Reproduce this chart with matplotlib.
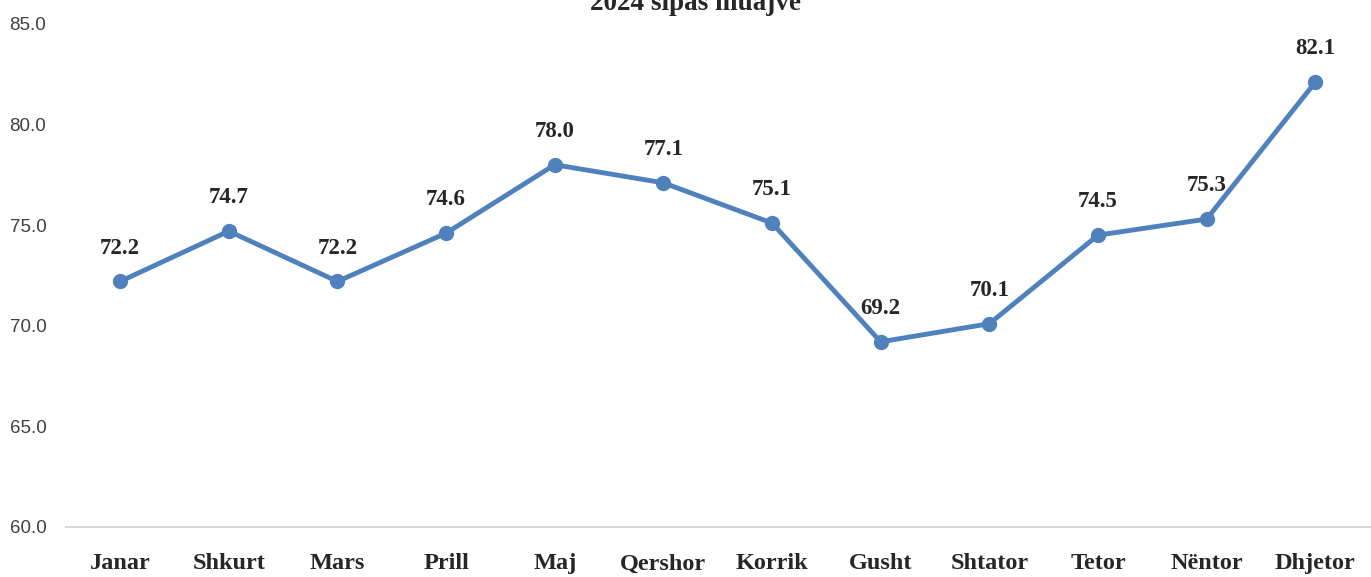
import numpy as np
import matplotlib.pyplot as plt

months = ["Janar", "Shkurt", "Mars", "Prill", "Maj", "Qershor", "Korrik",
          "Gusht", "Shtator", "Tetor", "Nëntor", "Dhjetor"]
values = [72.2, 74.7, 72.2, 74.6, 78.0, 77.1, 75.1, 69.2, 70.1, 74.5, 75.3, 82.1]
yticks = [60.0, 65.0, 70.0, 75.0, 80.0, 85.0]

fig = plt.figure(figsize=(13.71, 5.77), dpi=100)
ax = fig.add_axes([0.048, 0.0867, 0.951, 0.872])

x = np.arange(len(months))
ax.plot(x, values, color="#4F81BD", linewidth=3.5, marker="o", markersize=10,
        solid_capstyle="round")

# value labels above each point
for xi, v in zip(x, values):
    ax.annotate(f"{v:.1f}", (xi, v), xytext=(0, 24), textcoords="offset points",
                ha="center", va="center", fontsize=16.5, fontweight="bold",
                family="Liberation Serif", color="#262626")

ax.set_xlim(-0.5, len(months) - 0.5)
ax.set_ylim(60, 85)
ax.set_yticks(yticks)
ax.set_yticklabels([f"{t:.1f}" for t in yticks], family="Liberation Sans",
                   fontsize=13.5, color="#404040")
ax.set_xticks(x)
ax.set_xticklabels(months, family="Liberation Serif", fontsize=17.5,
                   fontweight="bold", color="#262626")
ax.tick_params(axis="both", length=0)
ax.tick_params(axis="y", pad=14)
ax.tick_params(axis="x", pad=19)

for s in ["top", "right", "left"]:
    ax.spines[s].set_visible(False)
ax.spines["bottom"].set_color("#D9D9D9")
ax.spines["bottom"].set_linewidth(1.5)

# title is partly cut by the top edge, as in the original image
fig.text(0.507, 0.983, "2024 sipas muajve", ha="center", va="baseline",
         family="Liberation Serif", fontsize=19.5, fontweight="bold", color="#262626")

fig.savefig("out.png", dpi=100)
